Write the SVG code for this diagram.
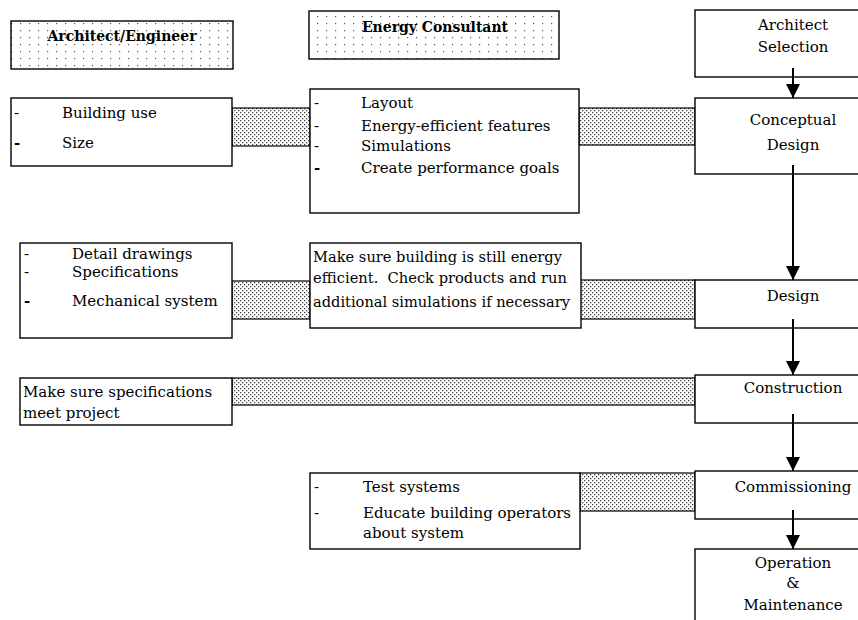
<svg xmlns="http://www.w3.org/2000/svg" width="858" height="620" viewBox="0 0 858 620">
<defs>
<pattern id="sparse" width="9" height="7" patternUnits="userSpaceOnUse">
<rect x="2" y="2" width="1.2" height="1.2" fill="#555"/>
</pattern>
<pattern id="dense" width="4" height="4" patternUnits="userSpaceOnUse">
<rect width="4" height="4" fill="#fff"/>
<rect x="0" y="0" width="1.3" height="1.3" fill="#444"/>
<rect x="2" y="2" width="1.3" height="1.3" fill="#444"/>
</pattern>
<marker id="arr" viewBox="0 0 10 10" refX="10" refY="5" markerWidth="14" markerHeight="14" markerUnits="userSpaceOnUse" orient="auto">
<path d="M0,0 L10,5 L0,10 Z" fill="#000"/>
</marker>
</defs>
<style>
.box{fill:#fff;stroke:#000;stroke-width:1.4}
.hdr{fill:url(#sparse);stroke:#000;stroke-width:1.4}
.band{fill:url(#dense);stroke:#000;stroke-width:1.2}
text{font-family:"DejaVu Serif","Liberation Serif",serif;font-size:15px;fill:#000}
.b{font-weight:bold;font-size:14px}
.c{text-anchor:middle}
.conn{stroke:#000;stroke-width:2;fill:none}
</style>
<rect width="858" height="620" fill="#fff"/>

<g id="bands">
<rect class="band" x="232" y="108" width="78" height="38"/>
<rect class="band" x="579" y="108" width="116" height="37"/>
<rect class="band" x="232" y="281" width="78" height="38"/>
<rect class="band" x="580" y="280" width="115" height="39"/>
<rect class="band" x="232" y="378" width="463" height="27"/>
<rect class="band" x="580" y="473" width="115" height="38"/>
</g>

<g id="hdr-architect">
<rect class="hdr" x="11" y="21" width="222" height="48"/>
<text class="b c" x="122" y="41">Architect/Engineer</text>
</g>
<g id="hdr-consultant">
<rect class="hdr" x="309" y="11" width="250" height="48"/>
<text class="b c" x="435" y="32">Energy Consultant</text>
</g>

<g id="n-architect-selection">
<rect class="box" x="695" y="10" width="170" height="67"/>
<text class="c" x="793" y="30">Architect</text>
<text class="c" x="793" y="52">Selection</text>
</g>
<g id="n-conceptual">
<rect class="box" x="695" y="98" width="170" height="76"/>
<text class="c" x="793" y="125">Conceptual</text>
<text class="c" x="793" y="150">Design</text>
</g>
<g id="n-design">
<rect class="box" x="695" y="280" width="170" height="48"/>
<text class="c" x="793" y="301">Design</text>
</g>
<g id="n-construction">
<rect class="box" x="695" y="375" width="170" height="48"/>
<text class="c" x="793" y="393">Construction</text>
</g>
<g id="n-commissioning">
<rect class="box" x="695" y="471" width="170" height="48"/>
<text class="c" x="793" y="492">Commissioning</text>
</g>
<g id="n-operation">
<rect class="box" x="695" y="549" width="170" height="80"/>
<text class="c" x="793" y="568">Operation</text>
<text class="c" x="793" y="588">&amp;</text>
<text class="c" x="793" y="610">Maintenance</text>
</g>

<g id="ae-conceptual">
<rect class="box" x="11" y="98" width="221" height="68"/>
<text x="14" y="118">-</text>
<text x="62" y="118">Building use</text>
<text x="14" y="148" style="font-weight:bold">-</text>
<text x="62" y="148">Size</text>
</g>
<g id="ec-conceptual">
<rect class="box" x="310" y="89" width="269" height="124"/>
<text x="314" y="108">-</text>
<text x="361" y="108">Layout</text>
<text x="314" y="131">-</text>
<text x="361" y="131">Energy-efficient features</text>
<text x="314" y="151">-</text>
<text x="361" y="151">Simulations</text>
<text x="314" y="173" style="font-weight:bold">-</text>
<text x="361" y="173">Create performance goals</text>
</g>
<g id="ae-design">
<rect class="box" x="20" y="243" width="212" height="95"/>
<text x="24" y="259">-</text>
<text x="72" y="259">Detail drawings</text>
<text x="24" y="277">-</text>
<text x="72" y="277">Specifications</text>
<text x="24" y="306" style="font-weight:bold">-</text>
<text x="72" y="306">Mechanical system</text>
</g>
<g id="ec-design">
<rect class="box" x="310" y="243" width="271" height="85"/>
<text x="313" y="262" textLength="249" lengthAdjust="spacingAndGlyphs">Make sure building is still energy</text>
<text x="313" y="283" textLength="254" lengthAdjust="spacingAndGlyphs" xml:space="preserve">efficient.  Check products and run</text>
<text x="313" y="307" textLength="257" lengthAdjust="spacingAndGlyphs">additional simulations if necessary</text>
</g>
<g id="ae-construction">
<rect class="box" x="20" y="378" width="212" height="47"/>
<text x="23" y="397">Make sure specifications</text>
<text x="23" y="418">meet project</text>
</g>
<g id="ec-commissioning">
<rect class="box" x="310" y="473" width="270" height="76"/>
<text x="314" y="492">-</text>
<text x="363" y="492">Test systems</text>
<text x="314" y="518">-</text>
<text x="363" y="518">Educate building operators</text>
<text x="363" y="538">about system</text>
</g>

<g id="connectors">
<line class="conn" x1="793" y1="68" x2="793" y2="98" marker-end="url(#arr)"/>
<line class="conn" x1="793" y1="165" x2="793" y2="280" marker-end="url(#arr)"/>
<line class="conn" x1="793" y1="319" x2="793" y2="375" marker-end="url(#arr)"/>
<line class="conn" x1="793" y1="414" x2="793" y2="471" marker-end="url(#arr)"/>
<line class="conn" x1="793" y1="510" x2="793" y2="549" marker-end="url(#arr)"/>
</g>
</svg>
